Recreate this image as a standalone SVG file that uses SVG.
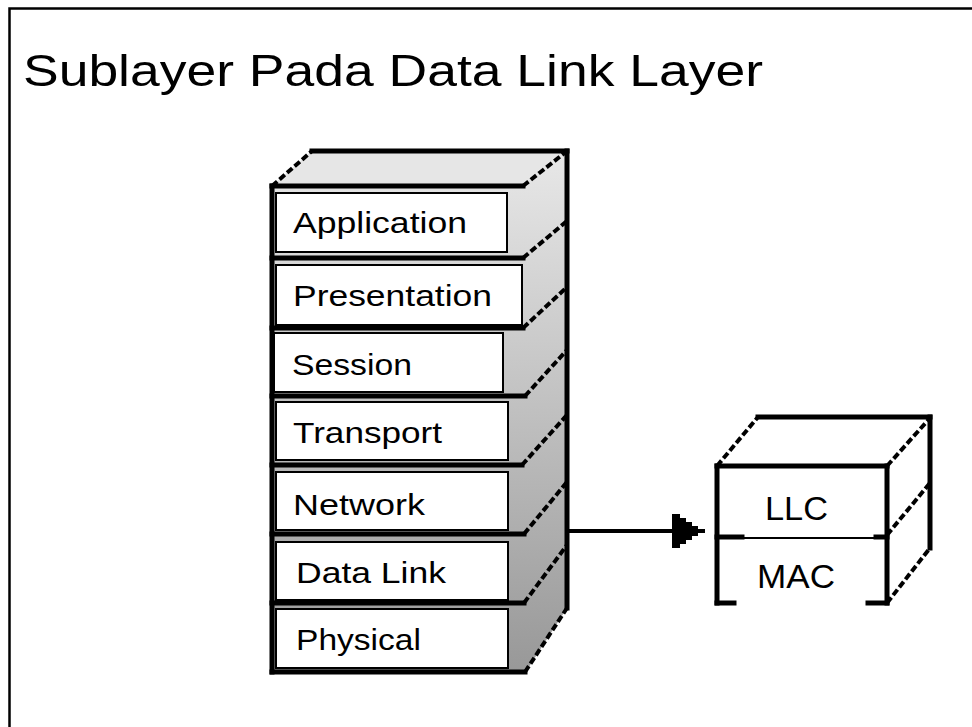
<svg xmlns="http://www.w3.org/2000/svg" width="972" height="727" viewBox="0 0 972 727">
<defs>
<linearGradient id="side" x1="0" y1="150" x2="0" y2="673" gradientUnits="userSpaceOnUse">
<stop offset="0" stop-color="#e8e8e8"/>
<stop offset="1" stop-color="#989898"/>
</linearGradient>
<marker id="ah" viewBox="0 0 34 34" refX="33" refY="17" markerWidth="34" markerHeight="34" markerUnits="userSpaceOnUse" orient="auto">
<path d="M0,0 H8 V4 H14 V8 H20 V12 H26 V15 H33 V19 H26 V22 H20 V26 H14 V30 H8 V34 H0 Z" fill="#000"/>
</marker>
<style>
.lbl{font-family:"Liberation Sans",Arial,sans-serif;font-size:30px;fill:#000}
.big{font-family:"Liberation Sans",Arial,sans-serif;font-size:34px;fill:#000}
.box{fill:#fff;stroke:#000;stroke-width:2}
.thick{stroke:#000;stroke-width:5;fill:none;stroke-linecap:square}
.diag{stroke:#000;stroke-width:4;fill:none;stroke-dasharray:7 3}
</style>
</defs>
<rect x="0" y="0" width="972" height="727" fill="#fff"/>
<rect x="9.5" y="8.5" width="1000" height="800" fill="none" stroke="#000" stroke-width="2.5"/>
<text x="23" y="86" font-family="'Liberation Sans',Arial,sans-serif" font-size="44" textLength="740" lengthAdjust="spacingAndGlyphs">Sublayer Pada Data Link Layer</text>

<g id="stack">
<polygon points="272,186 312,151 567,151 567,608 525,673 272,673" fill="url(#side)"/>
<polygon points="272,186 312,151 567,151 523,186" fill="#e6e6e6"/>
<line class="thick" x1="312" y1="151" x2="567" y2="151"/>
<line class="thick" x1="567" y1="151" x2="567" y2="608"/>
<line class="thick" x1="272" y1="186" x2="523" y2="186"/>
<line class="thick" x1="272" y1="186" x2="272" y2="672"/>
<line class="thick" x1="272" y1="672" x2="525" y2="672"/>
<line class="diag" x1="272" y1="186" x2="312" y2="151"/>
<line class="diag" x1="523" y1="186" x2="567" y2="151"/>
<line class="diag" x1="525" y1="672" x2="567" y2="608"/>
</g>

<g id="layer-application">
<rect class="box" x="276" y="193" width="231" height="59"/>
<text class="lbl" x="293" y="233" textLength="174" lengthAdjust="spacingAndGlyphs">Application</text>
<line class="thick" x1="272" y1="258" x2="523" y2="258"/>
<line class="diag" x1="523" y1="258" x2="567" y2="221"/>
</g>
<g id="layer-presentation">
<rect class="box" x="276" y="265" width="246" height="60"/>
<text class="lbl" x="293" y="306" textLength="199" lengthAdjust="spacingAndGlyphs">Presentation</text>
<line class="thick" x1="272" y1="328" x2="523" y2="328"/>
<line class="diag" x1="523" y1="328" x2="567" y2="287"/>
</g>
<g id="layer-session">
<rect class="box" x="274" y="333" width="229" height="59"/>
<text class="lbl" x="292" y="375" textLength="120" lengthAdjust="spacingAndGlyphs">Session</text>
<line class="thick" x1="272" y1="396" x2="525" y2="396"/>
<line class="diag" x1="525" y1="396" x2="567" y2="350"/>
</g>
<g id="layer-transport">
<rect class="box" x="276" y="402" width="232" height="58"/>
<text class="lbl" x="293" y="443" textLength="149" lengthAdjust="spacingAndGlyphs">Transport</text>
<line class="thick" x1="272" y1="465" x2="522" y2="465"/>
<line class="diag" x1="522" y1="465" x2="567" y2="415"/>
</g>
<g id="layer-network">
<rect class="box" x="276" y="472" width="232" height="58"/>
<text class="lbl" x="293" y="515" textLength="132" lengthAdjust="spacingAndGlyphs">Network</text>
<line class="thick" x1="272" y1="534" x2="524" y2="534"/>
<line class="diag" x1="524" y1="534" x2="567" y2="482"/>
</g>
<g id="layer-datalink">
<rect class="box" x="276" y="542" width="232" height="58"/>
<text class="lbl" x="296" y="583" textLength="150" lengthAdjust="spacingAndGlyphs">Data Link</text>
<line class="thick" x1="272" y1="603" x2="524" y2="603"/>
<line class="diag" x1="524" y1="603" x2="567" y2="545"/>
</g>
<g id="layer-physical">
<rect class="box" x="276" y="609" width="232" height="59"/>
<text class="lbl" x="296" y="650" textLength="125" lengthAdjust="spacingAndGlyphs">Physical</text>
</g>

<g id="sublayers">
<line class="thick" x1="758" y1="417" x2="930" y2="417"/>
<line class="thick" x1="930" y1="417" x2="930" y2="548"/>
<line class="diag" x1="717" y1="466" x2="758" y2="417"/>
<line class="diag" x1="887" y1="466" x2="930" y2="418"/>
<line class="diag" x1="887" y1="535" x2="930" y2="483"/>
<line class="diag" x1="887" y1="603" x2="930" y2="548"/>
<line class="thick" x1="717" y1="466" x2="887" y2="466"/>
<line class="thick" x1="717" y1="466" x2="717" y2="603"/>
<line class="thick" x1="887" y1="466" x2="887" y2="603"/>
<line x1="717" y1="538" x2="887" y2="538" stroke="#000" stroke-width="2"/>
<line class="thick" x1="717" y1="537" x2="742" y2="537"/>
<line class="thick" x1="876" y1="537" x2="887" y2="537"/>
<line class="thick" x1="717" y1="603" x2="734" y2="603"/>
<line class="thick" x1="868" y1="603" x2="887" y2="603"/>
</g>
<g id="node-llc">
<text class="big" x="765" y="520" textLength="63" lengthAdjust="spacingAndGlyphs">LLC</text>
</g>
<g id="node-mac">
<text class="big" x="757" y="588" textLength="78" lengthAdjust="spacingAndGlyphs">MAC</text>
</g>

<g id="connectors">
<line x1="569" y1="531" x2="690" y2="531" stroke="#000" stroke-width="4"/>
<path d="M672,514 H680 V518 H686 V522 H692 V526 H698 V529 H705 V533 H698 V536 H692 V540 H686 V544 H680 V548 H672 Z" fill="#000"/>
</g>
</svg>
